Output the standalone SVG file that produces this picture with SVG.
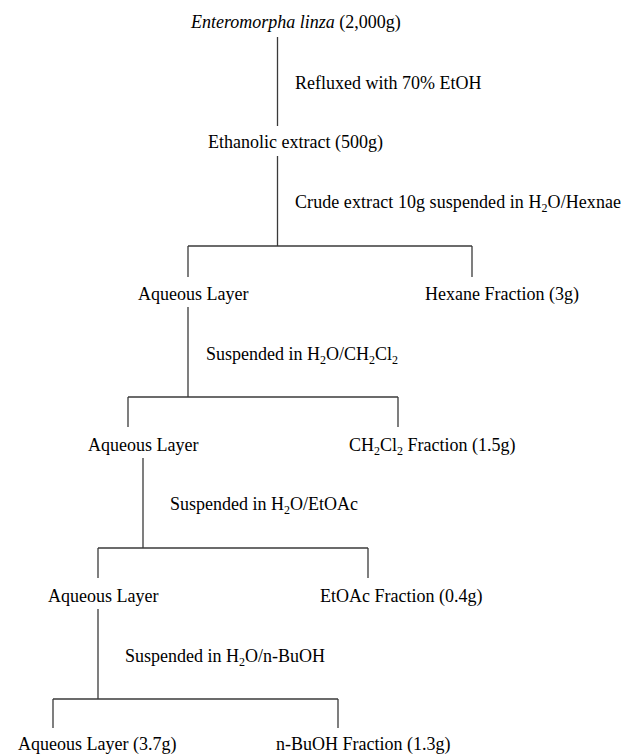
<svg xmlns="http://www.w3.org/2000/svg" width="623" height="754" viewBox="0 0 623 754">
<style>
text{font-family:"Liberation Serif","Times New Roman",serif;font-size:18px;fill:#000}
.sub{font-size:12px}
.c line{stroke:#3a3a3a;stroke-width:1.3;fill:none}
</style>
<rect width="623" height="754" fill="#fff"/>
<g class="c" id="connectors">
<line x1="277.5" y1="37" x2="277.5" y2="126"/>
<line x1="277.5" y1="156" x2="277.5" y2="246"/>
<line x1="188" y1="246" x2="472" y2="246"/>
<line x1="188" y1="246" x2="188" y2="277"/>
<line x1="472" y1="246" x2="472" y2="277"/>
<line x1="188" y1="307" x2="188" y2="397"/>
<line x1="128" y1="397" x2="398" y2="397"/>
<line x1="128" y1="397" x2="128" y2="427"/>
<line x1="398" y1="397" x2="398" y2="427"/>
<line x1="143" y1="458" x2="143" y2="548"/>
<line x1="98" y1="548" x2="368" y2="548"/>
<line x1="98" y1="548" x2="98" y2="578"/>
<line x1="368" y1="548" x2="368" y2="578"/>
<line x1="98" y1="609" x2="98" y2="699"/>
<line x1="53" y1="699" x2="338" y2="699"/>
<line x1="53" y1="699" x2="53" y2="728"/>
<line x1="338" y1="699" x2="338" y2="728"/>
</g>
<g id="source"><text x="191" y="28"><tspan font-style="italic">Enteromorpha linza</tspan> (2,000g)</text></g>
<g id="step1"><text x="295" y="89">Refluxed with 70% EtOH</text></g>
<g id="ethanolic"><text x="208" y="148">Ethanolic extract (500g)</text></g>
<g id="step2"><text x="295" y="208" textLength="326" lengthAdjust="spacing">Crude extract 10g suspended in H<tspan class="sub" dy="4">2</tspan><tspan dy="-4">O/Hexnae</tspan></text></g>
<g id="aqueous1"><text x="138" y="300">Aqueous Layer</text></g>
<g id="hexane"><text x="425" y="300">Hexane Fraction (3g)</text></g>
<g id="step3"><text x="206" y="360">Suspended in H<tspan class="sub" dy="4">2</tspan><tspan dy="-4">O/CH</tspan><tspan class="sub" dy="4">2</tspan><tspan dy="-4">Cl</tspan><tspan class="sub" dy="4">2</tspan></text></g>
<g id="aqueous2"><text x="88" y="451">Aqueous Layer</text></g>
<g id="ch2cl2"><text x="349" y="451">CH<tspan class="sub" dy="4">2</tspan><tspan dy="-4">Cl</tspan><tspan class="sub" dy="4">2</tspan><tspan dy="-4"> Fraction (1.5g)</tspan></text></g>
<g id="step4"><text x="170" y="510">Suspended in H<tspan class="sub" dy="4">2</tspan><tspan dy="-4">O/EtOAc</tspan></text></g>
<g id="aqueous3"><text x="48" y="602">Aqueous Layer</text></g>
<g id="etoac"><text x="320" y="602">EtOAc Fraction (0.4g)</text></g>
<g id="step5"><text x="125" y="662">Suspended in H<tspan class="sub" dy="4">2</tspan><tspan dy="-4">O/n-BuOH</tspan></text></g>
<g id="aqueous4"><text x="18" y="750">Aqueous Layer (3.7g)</text></g>
<g id="buoh"><text x="276" y="750">n-BuOH Fraction (1.3g)</text></g>
</svg>
